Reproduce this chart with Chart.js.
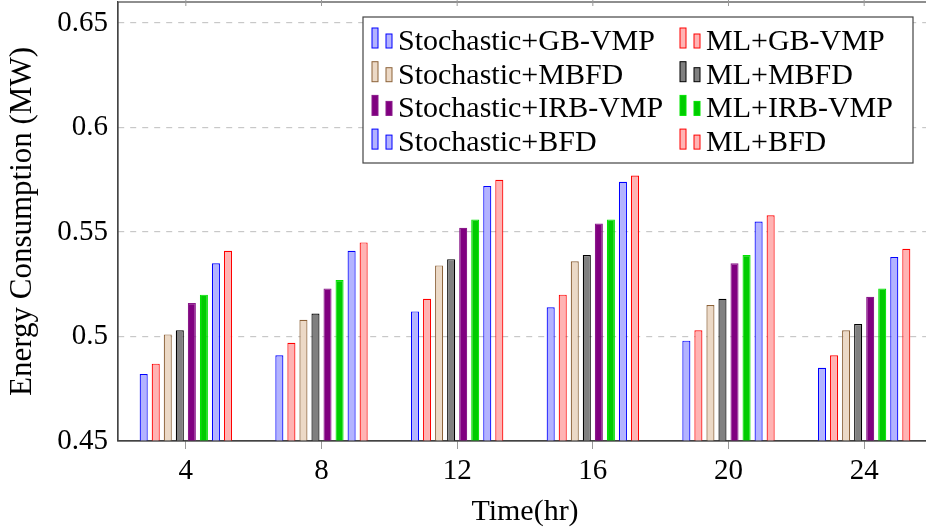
<!DOCTYPE html>
<html>
<head>
<meta charset="utf-8">
<script src="https://cdn.jsdelivr.net/npm/chart.js@4/dist/chart.umd.min.js"></script>
<style>
  html, body { margin: 0; padding: 0; background: #fff; overflow: hidden; }
  #wrap { width: 940px; height: 532px; }
</style>
</head>
<body>
<div id="wrap"><canvas id="energy_chart" width="940" height="532"></canvas></div>
<script>
// Time slots on the x axis
const timeLabels = ["4", "8", "12", "16", "20", "24"];

// Energy consumption (MW) per method
const stochGbVmp  = [0.482, 0.491, 0.512, 0.514, 0.498, 0.485];
const mlGbVmp     = [0.487, 0.497, 0.518, 0.520, 0.503, 0.491];
const stochMbfd   = [0.501, 0.508, 0.534, 0.536, 0.515, 0.503];
const mlMbfd      = [0.503, 0.511, 0.537, 0.539, 0.518, 0.506];
const stochIrbVmp = [0.516, 0.523, 0.552, 0.554, 0.535, 0.519];
const mlIrbVmp    = [0.520, 0.527, 0.556, 0.556, 0.539, 0.523];
const stochBfd    = [0.535, 0.541, 0.572, 0.574, 0.555, 0.538];
const mlBfd       = [0.541, 0.545, 0.575, 0.577, 0.558, 0.542];

const yTicks = [0.45, 0.5, 0.55, 0.6, 0.65];

// common bar style
const base_bar = {
  borderWidth: 1.2,
  borderSkipped: false,
  barPercentage: 0.67,
  categoryPercentage: 0.71
};

const datasets = [
  { ...base_bar, label: "Stochastic+GB-VMP",  data: stochGbVmp,  backgroundColor: "#b3b3ff", borderColor: "#0000ff" },
  { ...base_bar, label: "ML+GB-VMP",          data: mlGbVmp,     backgroundColor: "#ffb3b3", borderColor: "#ff0000" },
  { ...base_bar, label: "Stochastic+MBFD",    data: stochMbfd,   backgroundColor: "#ecd9c6", borderColor: "#8c6239" },
  { ...base_bar, label: "ML+MBFD",            data: mlMbfd,      backgroundColor: "#808080", borderColor: "#000000" },
  { ...base_bar, label: "Stochastic+IRB-VMP", data: stochIrbVmp, backgroundColor: "#800080", borderColor: "#8a1a8a" },
  { ...base_bar, label: "ML+IRB-VMP",         data: mlIrbVmp,    backgroundColor: "#00cc00", borderColor: "#00e600" },
  { ...base_bar, label: "Stochastic+BFD",     data: stochBfd,    backgroundColor: "#b3b3ff", borderColor: "#0000ff" },
  { ...base_bar, label: "ML+BFD",             data: mlBfd,       backgroundColor: "#ffb3b3", borderColor: "#ff0000" }
];

// frame + two column legend inside the plot, pgfplots style
const framePlugin = {
  id: "frame",
  afterDatasetsDraw(chart) {
    const ctx = chart.ctx;
    const a = chart.chartArea;
    ctx.save();
    ctx.strokeStyle = "#444";
    ctx.lineWidth = 1.2;
    ctx.strokeRect(a.left, a.top, a.right - a.left, a.bottom - a.top);
    // small ticks on top edge
    const xs = chart.scales.x;
    ctx.strokeStyle = "#999";
    ctx.lineWidth = 1;
    timeLabels.forEach((t, i) => {
      const px = xs.getPixelForTick(i);
      ctx.beginPath();
      ctx.moveTo(px, 0);
      ctx.lineTo(px, a.top + 4);
      ctx.stroke();
    });

    // legend box
    const bx = 363, by = 17, bw = 550, bh = 146;
    ctx.fillStyle = "#fff";
    ctx.fillRect(bx, by, bw, bh);
    ctx.strokeStyle = "#444";
    ctx.lineWidth = 1.2;
    ctx.strokeRect(bx, by, bw, bh);

    ctx.font = "30px 'Liberation Serif'";
    ctx.textBaseline = "alphabetic";
    ctx.textAlign = "left";
    chart.data.datasets.forEach((ds, i) => {
      const col = i % 2, row = Math.floor(i / 2);
      const x0 = col === 0 ? 372 : 680;
      const yb = 48 + row * 33.7;
      ctx.fillStyle = ds.backgroundColor;
      ctx.strokeStyle = ds.borderColor;
      ctx.lineWidth = 1;
      ctx.fillRect(x0, yb - 20, 6, 20);
      ctx.strokeRect(x0, yb - 20, 6, 20);
      ctx.fillRect(x0 + 14, yb - 14, 6, 14);
      ctx.strokeRect(x0 + 14, yb - 14, 6, 14);
      ctx.fillStyle = "#000";
      ctx.fillText(ds.label, x0 + 26, yb + 2);
    });
    ctx.restore();
  }
};

var options = {
  responsive: false,
  animation: false,
  layout: { padding: { left: 0, right: 8, top: 2, bottom: 0 } },
  plugins: {
    legend: { display: false },
    tooltip: { enabled: false }
  },
  scales: {
    x: {
      grid: { drawOnChartArea: false, drawTicks: true, tickLength: 8, color: "#999", offset: false },
      border: { display: true, color: "#444", width: 1.2 },
      ticks: { padding: 5, color: "#000", font: { size: 29 } },
      title: { display: true, text: "Time(hr)", color: "#000", font: { size: 30 }, padding: { top: 0, bottom: 2 } },
      afterFit: (s) => { s.height = 91; s.paddingLeft = 0; s.paddingRight = 0; }
    },
    y: {
      min: 0.45,
      max: 0.66,
      afterBuildTicks: (s) => { s.ticks = yTicks.map(v => ({ value: v })); },
      grid: {
        drawTicks: false,
        color: (c) => (c.tick && c.tick.value === 0.45) ? "rgba(0,0,0,0)" : "#c8c8c8",
        lineWidth: 1.2
      },
      border: { display: true, color: "#444", width: 1.2, dash: [6, 6] },
      ticks: { padding: 10, color: "#000", font: { size: 29 }, callback: (v) => String(v) },
      title: { display: true, text: "Energy Consumption (MW)", color: "#000", font: { size: 31 }, padding: { top: 4, bottom: 0 } },
      afterFit: (s) => { s.width = 118; s.paddingTop = 0; s.paddingBottom = 0; }
    }
  }
};

Chart.defaults.font.family = "'Liberation Serif', serif";

new Chart(document.getElementById("energy_chart").getContext("2d"), {
  type: "bar",
  data: { labels: timeLabels, datasets: datasets },
  options: options,
  plugins: [framePlugin]
});
</script>
</body>
</html>
